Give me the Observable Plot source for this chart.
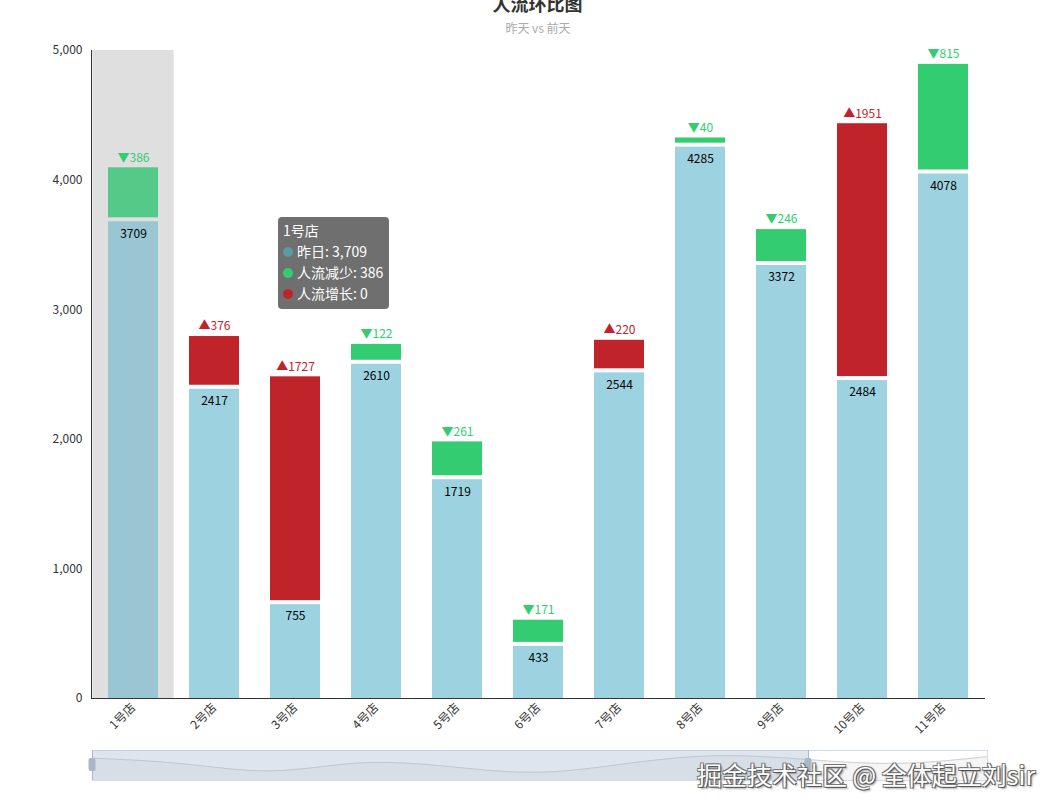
<!DOCTYPE html>
<html>
<head>
<meta charset="utf-8">
<script src="https://cdn.jsdelivr.net/npm/d3@7"></script>
<script src="https://cdn.jsdelivr.net/npm/@observablehq/plot@0.6"></script>
<style>
  html, body { margin: 0; padding: 0; background: #fff; }
  #wrap { position: relative; width: 1058px; height: 812px; overflow: hidden;
    font-family: "Noto Sans CJK SC", "Microsoft YaHei", sans-serif; }
  #title { position: absolute; left: 0; width: 1075px; top: -9px; text-align: center;
    font-size: 18px; font-weight: bold; color: #333; line-height: 24px; }
  #subtitle { position: absolute; left: 0; width: 1076px; top: 20px; text-align: center;
    font-size: 12px; color: #aaa; line-height: 16px; }
  #chart { position: absolute; left: 0; top: 0; }
  #slider { position: absolute; left: 0; top: 750px; }
  #tip { position: absolute; left: 278px; top: 217px; width: 111px; height: 92px; box-sizing: border-box;
    background: rgba(50,50,50,0.7); border-radius: 4px; color: #fff; font-size: 14px;
    padding: 3px 5px; line-height: 21px; white-space: nowrap; }
  #tip .dot { display: inline-block; width: 10px; height: 10px; border-radius: 5px;
    margin-right: 4px; vertical-align: -0px; }
  #wm { position: absolute; left: 697px; top: 756px; font-size: 25px; color: #fff; white-space: nowrap;
    text-shadow: 1px 1px 0 #555, -1px -1px 0 #777, 1px -1px 0 #777, -1px 1px 0 #777, 2px 2px 2px rgba(0,0,0,0.35); }
</style>
</head>
<body>
<div id="wrap">
  <div id="chart"></div>
  <div id="slider"></div>
  <div id="title">人流环比图</div>
  <div id="subtitle">昨天 vs 前天</div>
  <div id="tip"></div>
  <div id="wm">掘金技术社区 @ 全体起立刘sir</div>
</div>
<script>
// ---- data ----
const stores = ["1号店","2号店","3号店","4号店","5号店","6号店","7号店","8号店","9号店","10号店","11号店"];
const yesterday = [3709, 2417, 755, 2610, 1719, 433, 2544, 4285, 3372, 2484, 4078];
const decrease  = [386, 0, 0, 122, 261, 171, 0, 40, 246, 0, 815];
const increase  = [0, 376, 1727, 0, 0, 0, 220, 0, 0, 1951, 0];
const yTicks = [0, 1000, 2000, 3000, 4000, 5000];
const highlighted = "1号店";
const zoomRange = [0, 8];
const seriesNames = ["昨日", "人流减少", "人流增长"];

// ---- style ----
const FONT = '"Noto Sans CJK SC", "Microsoft YaHei", sans-serif';
const BLUE = "#9dd3e0", BLUE_HL = "#9ac6d4";
const GREEN = "#33cc71", GREEN_HL = "#55c987";
const RED = "#c1232b";
const dotColors = ["#5a9ba6", "#33cc71", "#c1232b"];

const data = stores.map((s, i) => ({
  store: s, yesterday: yesterday[i], dec: decrease[i], inc: increase[i],
  total: yesterday[i] + decrease[i] + increase[i]
}));

const chart = Plot.plot({
  width: 1058, height: 745,
  marginTop: 50, marginBottom: 47, marginLeft: 91, marginRight: 73,
  style: { fontFamily: FONT, fontSize: "12px", color: "#333", background: "transparent" },
  x: { domain: stores, paddingInner: 0.385, paddingOuter: 0.1925, label: null },
  y: { domain: [yTicks[0], yTicks[yTicks.length - 1]], label: null },
  marks: [
    Plot.barY(data.filter(d => d.store === highlighted), {
      x: "store", y1: yTicks[0], y2: yTicks[yTicks.length - 1],
      fill: "#969696", fillOpacity: 0.3, insetLeft: -15.65, insetRight: -15.65
    }),
    Plot.barY(data, {
      x: "store", y1: 0, y2: "yesterday", insetTop: 4,
      fill: d => d.store === highlighted ? BLUE_HL : BLUE
    }),
    Plot.barY(data, {
      x: "store", y1: "yesterday", y2: "total",
      fill: d => d.dec > 0 ? (d.store === highlighted ? GREEN_HL : GREEN) : RED
    }),
    Plot.text(data, {
      x: "store", y: "yesterday", text: d => String(d.yesterday),
      dy: 16, fill: "#000", fontSize: 12
    }),
    Plot.text(data, {
      x: "store", y: "total", text: d => d.dec > 0 ? "▼" + d.dec : "▲" + d.inc,
      dy: -10, fontSize: 12, fill: d => d.dec > 0 ? GREEN : RED
    }),
    Plot.axisY({ ticks: yTicks, tickFormat: d3.format(","), tickSize: 0, tickPadding: 9, label: null, fill: "#333" }),
    Plot.axisX({ tickRotate: -45, tickSize: 0, tickPadding: 7, label: null, fill: "#333" }),
    Plot.frame({ anchor: "left", stroke: "#333" }),
    Plot.ruleY([0], { stroke: "#333" })
  ]
});
document.getElementById("chart").appendChild(chart);

// ---- data zoom slider ----
const sliderData = yesterday.map((v, i) => ({ i, v }));
const slider = Plot.plot({
  width: 1058, height: 31, marginTop: 0, marginBottom: 1, marginLeft: 92, marginRight: 71,
  style: { background: "transparent" },
  x: { domain: [0, stores.length - 1], axis: null },
  y: { domain: [-1500, 5500], axis: null },
  marks: [
    Plot.frame({ stroke: "#d2dbee", fill: "#fff" }),
    Plot.areaY(sliderData, { x: "i", y1: -1500, y2: "v", curve: "natural", fill: "#000", fillOpacity: 0.04 }),
    Plot.lineY(sliderData, { x: "i", y: "v", curve: "natural", stroke: "#ccd0d8", strokeWidth: 1 }),
    Plot.rect([zoomRange], { x1: d => d[0], x2: d => d[1], fill: "rgb(167,183,204)", fillOpacity: 0.36 }),
    Plot.ruleX(zoomRange, { stroke: "#a7b7cc", strokeWidth: 1 }),
    Plot.rect(zoomRange, { x1: d => d, x2: d => d, insetLeft: -3.5, insetRight: -3.5, insetTop: 8, insetBottom: 9, fill: "#a7b7cc", rx: 2 })
  ]
});
document.getElementById("slider").appendChild(slider);

// ---- tooltip ----
const hi = data.find(d => d.store === highlighted);
const vals = [hi.yesterday, hi.dec, hi.inc];
const fmt = d3.format(",");
let html = `<div>${hi.store}</div>`;
seriesNames.forEach((n, k) => {
  html += `<div><span class="dot" style="background:${dotColors[k]}"></span>${n}: ${fmt(vals[k])}</div>`;
});
document.getElementById("tip").innerHTML = html;
</script>
</body>
</html>
